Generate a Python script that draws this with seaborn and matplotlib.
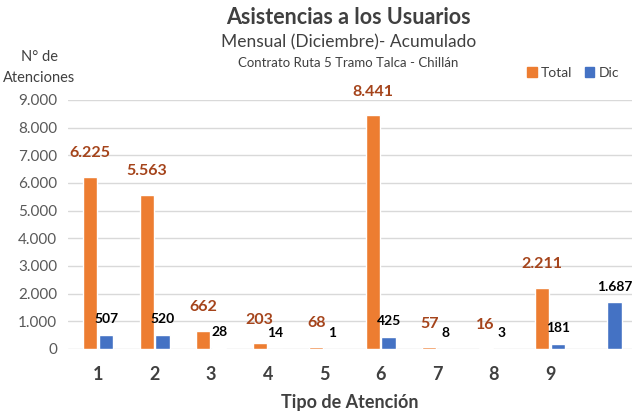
import numpy as np
import pandas as pd
import matplotlib.pyplot as plt
import seaborn as sns

# ── data ──────────────────────────────────────────────────────────────────────
categories = ["1", "2", "3", "4", "5", "6", "7", "8", "9", "10"]
tick_labels = ["1", "2", "3", "4", "5", "6", "7", "8", "9", ""]
total_vals = [6225, 5563, 662, 203, 68, 8441, 57, 16, 2211, np.nan]
dic_vals = [507, 520, 28, 14, 1, 425, 8, 3, 181, 1687]

ORANGE = "#ED7D31"
BLUE = "#4472C4"
FONT = ["Lato", "DejaVu Sans"]

df = pd.DataFrame({
    "Tipo": categories * 2,
    "Serie": ["Total"] * len(categories) + ["Dic"] * len(categories),
    "Valor": total_vals + dic_vals,
}).dropna()

sns.set_style("white")
plt.rcParams["font.family"] = FONT

fig = plt.figure(figsize=(6.32, 4.11), dpi=100)
ax = fig.add_axes([0.108, 0.151, 0.892, 0.606])

sns.barplot(data=df, x="Tipo", y="Valor", hue="Serie", order=categories,
            hue_order=["Total", "Dic"], palette=[ORANGE, BLUE],
            width=0.56, gap=0.1, saturation=1, ax=ax, legend=False)

ax.set_ylim(0, 9000)
ax.set_xlim(-0.53, 9.45)
yt = np.arange(0, 9001, 1000)
ax.set_yticks(yt)
ax.set_yticklabels([f"{v:,}".replace(",", ".") for v in yt],
                   fontsize=11, color="#595959")
ax.set_xticks(range(len(categories)))
ax.set_xticklabels(tick_labels, fontsize=13, color="#404040", fontweight="bold")
ax.tick_params(axis="both", length=0)
ax.tick_params(axis="x", pad=12)
ax.tick_params(axis="y", pad=8)
ax.grid(axis="y", color="#D9D9D9", lw=1)
ax.set_axisbelow(True)
for s in ax.spines.values():
    s.set_visible(False)
ax.set_xlabel("Tipo de Atención", fontsize=13, fontweight="bold",
              color="#404040", labelpad=8)
ax.set_ylabel("")


def fmt(v):
    return f"{int(round(v)):,}".replace(",", ".")


# data labels on each drawn bar
for cont, color, pad, size in [(ax.containers[0], "#A5441B", 12, 11.5),
                               (ax.containers[1], "black", 7, 10)]:
    for bar in cont:
        if bar is None or np.isnan(bar.get_height()):
            continue
        ax.annotate(fmt(bar.get_height()),
                    (bar.get_x() + bar.get_width() / 2, bar.get_height()),
                    xytext=(0, pad), textcoords="offset points",
                    ha="center", va="bottom", fontsize=size,
                    fontweight="bold", color=color)

# ── titles ────────────────────────────────────────────────────────────────────
fig.text(0.551, 0.958, "Asistencias a los Usuarios", ha="center", va="center",
         fontsize=15.5, fontweight="bold", color="#404040")
fig.text(0.551, 0.898, "Mensual (Diciembre)- Acumulado", ha="center",
         va="center", fontsize=12.5, color="#404040")
fig.text(0.551, 0.847, "Contrato Ruta 5 Tramo Talca - Chillán", ha="center",
         va="center", fontsize=9.5, color="#404040")
fig.text(0.062, 0.836, "N° de\nAtenciones", ha="center", va="center",
         fontsize=10.5, color="#404040", linespacing=1.6)

handles = [plt.Rectangle((0, 0), 1, 1, color=ORANGE),
           plt.Rectangle((0, 0), 1, 1, color=BLUE)]
fig.legend(handles, ["Total", "Dic"], loc="center right",
           bbox_to_anchor=(0.995, 0.823), ncol=2, frameon=False, fontsize=10,
           handlelength=0.7, handleheight=0.7, handletextpad=0.3,
           columnspacing=0.9, labelcolor="#404040", borderpad=0.2)

fig.savefig("out.png", dpi=100)
